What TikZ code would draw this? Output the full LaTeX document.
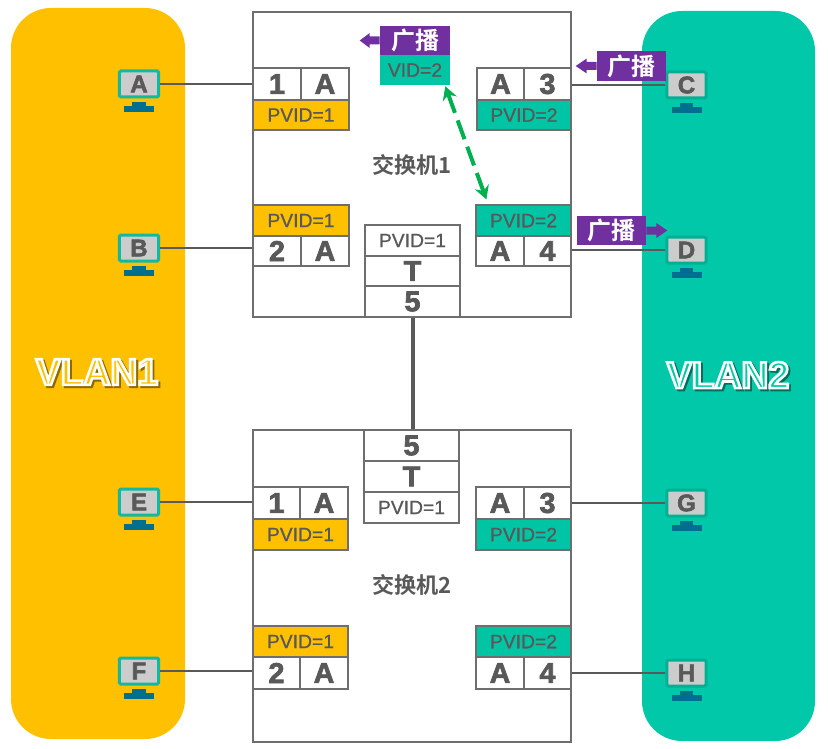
\documentclass[tikz,border=0pt]{standalone}
\usepackage{fontspec}
\usetikzlibrary{calc,arrows.meta}
\setmainfont{Liberation Sans}[FakeBold=0.8]
\newfontfamily\cjkb[BoldFont={Noto Sans CJK SC Bold}]{Noto Sans CJK SC}
\newfontfamily\heavy[FakeBold=2.4]{Liberation Sans Bold}
\newfontfamily\outlined[FakeBold=7]{Liberation Sans Bold}
\definecolor{bandY}{HTML}{FFC000}
\definecolor{bandT}{HTML}{00C8A8}
\definecolor{portT}{HTML}{00C5A5}
\definecolor{ink}{HTML}{595959}
\definecolor{edge}{HTML}{6E6E6E}
\definecolor{purp}{HTML}{7030A0}
\definecolor{arrowG}{HTML}{00B050}
\definecolor{monB}{HTML}{14B8A0}
\definecolor{monS}{HTML}{CCCCCC}
\definecolor{monF}{HTML}{006E8F}
\tikzset{
  x=0.75pt,y=-0.75pt,
  band/.style={fill=#1,draw=none,rounded corners=30pt,inner sep=0pt},
  boxed/.style={draw=edge,line width=0.9pt,inner sep=0pt,text=ink,font=\fontsize{14.5}{16}\selectfont},
  wcell/.style={boxed,fill=white},
  ycell/.style={boxed,fill=bandY},
  tcell/.style={boxed,fill=portT},
  big/.style={font=\heavy\fontsize{21.5}{23}\selectfont},
  body/.style={draw=edge,line width=0.9pt,fill=white,inner sep=0pt},
  link/.style={draw=ink,line width=1.3pt},
  trunk/.style={draw=ink,line width=3pt},
  screen/.style={draw=#1,line width=2.25pt,fill=monS,rounded corners=1pt,inner sep=0pt,minimum width=29.5pt,minimum height=19.5pt,
    text=ink,font=\heavy\fontsize{18}{19}\selectfont},
  tag/.style={fill=purp,text=white,inner sep=0pt,font=\cjkb\bfseries\fontsize{18}{20}\selectfont},
  vidbox/.style={fill=portT,text=ink,inner sep=0pt,font=\fontsize{14.5}{16}\selectfont},
  title/.style={text=ink,inner sep=0pt,font=\cjkb\bfseries\fontsize{16.6}{18}\selectfont},
  vlanlabel/.style={inner sep=0pt,font=\outlined\fontsize{28}{30}\selectfont},
}
\newcommand{\bx}[7]{%
  \pgfmathsetmacro{\cxx}{(#3+#5)/2}\pgfmathsetmacro{\cyy}{(#4+#6)/2}%
  \pgfmathsetmacro{\www}{(#5-#3)*0.75}\pgfmathsetmacro{\hhh}{(#6-#4)*0.75}%
  \node[#1,minimum width=\www pt,minimum height=\hhh pt] (#2) at (\cxx,\cyy) {#7};}
% host: name, x, y, letter, border colour
\newcommand{\host}[5]{%
  \node[screen=#5] (#1) at (#2,#3) {#4};
  \fill[monF] ([xshift=-4.9pt,yshift=-2.6pt]#1.south) rectangle ([xshift=4.9pt,yshift=-5.6pt]#1.south);
  \fill[monF] ([xshift=-11.25pt,yshift=-5.6pt]#1.south) rectangle ([xshift=11.25pt,yshift=-10.1pt]#1.south);}
% outlined label: fill colour, shadow colour, text
\newcommand{\outl}[3]{%
  \rlap{\kern1.4pt\raisebox{-1.4pt}{\textcolor{#2}{#3}}}%
  \textcolor{#1}{\special{pdf:code 1 1 1 RG}#3}}
\begin{document}
\begin{tikzpicture}
\useasboundingbox (0,0) rectangle (828,749);
\fill[white] (0,0) rectangle (828,749);
\bx{band=bandY}{vlanL}{11}{8}{185}{739}{}
\bx{band=bandT}{vlanR}{642}{11}{815}{741}{}
\bx{body}{swA}{253}{12}{571}{317}{}
\bx{body}{swB}{253}{430}{571}{742}{}
\node[title] (swAname) at (412,165) {交换机1};
\node[title] (swBname) at (412,585) {交换机2};
% switch 1 ports
\bx{wcell,big}{a1n}{253}{68}{301}{100}{1}
\bx{wcell,big}{a1t}{301}{68}{349}{100}{A}
\bx{ycell}{a1p}{253}{100}{349}{130}{PVID=1}
\bx{wcell,big}{a3t}{477}{68}{524}{100}{A}
\bx{wcell,big}{a3n}{524}{68}{571}{100}{3}
\bx{tcell}{a3p}{477}{100}{571}{130}{PVID=2}
\bx{ycell}{a2p}{253}{205}{349}{236}{PVID=1}
\bx{wcell,big}{a2n}{253}{236}{301}{266}{2}
\bx{wcell,big}{a2t}{301}{236}{349}{266}{A}
\bx{tcell}{a4p}{476}{205}{571}{236}{PVID=2}
\bx{wcell,big}{a4t}{476}{236}{524}{266}{A}
\bx{wcell,big}{a4n}{524}{236}{571}{266}{4}
\bx{wcell}{a5p}{365}{225}{460}{256}{PVID=1}
\bx{wcell,big}{a5t}{365}{256}{460}{286}{T}
\bx{wcell,big}{a5n}{365}{286}{460}{317}{5}
% switch 2 ports
\bx{wcell,big}{b5n}{364}{430}{459}{461}{5}
\bx{wcell,big}{b5t}{364}{461}{459}{492}{T}
\bx{wcell}{b5p}{364}{492}{459}{523}{PVID=1}
\bx{wcell,big}{b1n}{253}{487}{300}{519}{1}
\bx{wcell,big}{b1t}{300}{487}{348}{519}{A}
\bx{ycell}{b1p}{253}{519}{348}{550}{PVID=1}
\bx{wcell,big}{b3t}{476}{487}{524}{519}{A}
\bx{wcell,big}{b3n}{524}{487}{571}{519}{3}
\bx{tcell}{b3p}{476}{519}{571}{550}{PVID=2}
\bx{ycell}{b2p}{253}{626}{348}{657}{PVID=1}
\bx{wcell,big}{b2n}{253}{657}{300}{689}{2}
\bx{wcell,big}{b2t}{300}{657}{348}{689}{A}
\bx{tcell}{b4p}{476}{626}{571}{657}{PVID=2}
\bx{wcell,big}{b4t}{476}{657}{524}{689}{A}
\bx{wcell,big}{b4n}{524}{657}{571}{689}{4}
% hosts
\host{hA}{139}{84}{A}{monB}
\host{hB}{139}{248}{B}{monB}
\host{hE}{139}{502}{E}{monB}
\host{hF}{139}{671}{F}{monB}
\host{hC}{686.5}{85}{C}{bandT!88!black}
\host{hD}{686.5}{250}{D}{bandT!88!black}
\host{hG}{686.5}{503}{G}{bandT!88!black}
\host{hH}{686.5}{673}{H}{bandT!88!black}
% links
\draw[link] (hA.east) -- (hA.east -| a1n.west);
\draw[link] (hB.east) -- (hB.east -| a2n.west);
\draw[link] (hE.east) -- (hE.east -| b1n.west);
\draw[link] (hF.east) -- (hF.east -| b2n.west);
\draw[link] (hC.west) -- (hC.west -| a3n.east);
\draw[link] (hD.west) -- (hD.west -| a4n.east);
\draw[link] (hG.west) -- (hG.west -| b3n.east);
\draw[link] (hH.west) -- (hH.west -| b4n.east);
\draw[trunk] (a5n.south) -- (a5n.south |- b5n.north);
% broadcast tags
\bx{vidbox}{vid}{380}{55}{450}{85}{VID=2}
\bx{tag}{tagA}{380}{26}{450}{55}{广播}
\bx{tag}{tagC}{597}{51}{666}{81}{广播}
\bx{tag}{tagD}{577}{216}{646}{245}{广播}
\fill[purp] (tagA.west) ++(0,-4) -- ++(-10,0) -- ++(0,-3.5) -- ++(-10,7.5) -- ++(10,7.5) -- ++(0,-3.5) -- ++(10,0) -- cycle;
\fill[purp] (tagC.west) ++(0,-4) -- ++(-10,0) -- ++(0,-3.5) -- ++(-11,7.5) -- ++(11,7.5) -- ++(0,-3.5) -- ++(10,0) -- cycle;
\fill[purp] (tagD.east) ++(0,-4) -- ++(10,0) -- ++(0,-3.5) -- ++(11,7.5) -- ++(-11,7.5) -- ++(0,-3.5) -- ++(-10,0) -- cycle;
% green dashed
\coordinate (gT) at ($(vid.south east)+(-5,1)$);
\coordinate (gB) at ($(a4p.north west)+(11,-5)$);
\draw[arrowG,line width=3pt,dash pattern=on 15pt off 6pt,{Stealth[length=10pt,width=11pt]}-{Stealth[length=10pt,width=11pt]}] (gT) -- (gB);
% VLAN labels
\node[vlanlabel] (lblL) at (97,373) {\outl{bandY}{bandY!55!black}{VLAN1}};
\node[vlanlabel] (lblR) at (728,376) {\outl{bandT}{bandT!55!black}{VLAN2}};
\end{tikzpicture}
\end{document}
